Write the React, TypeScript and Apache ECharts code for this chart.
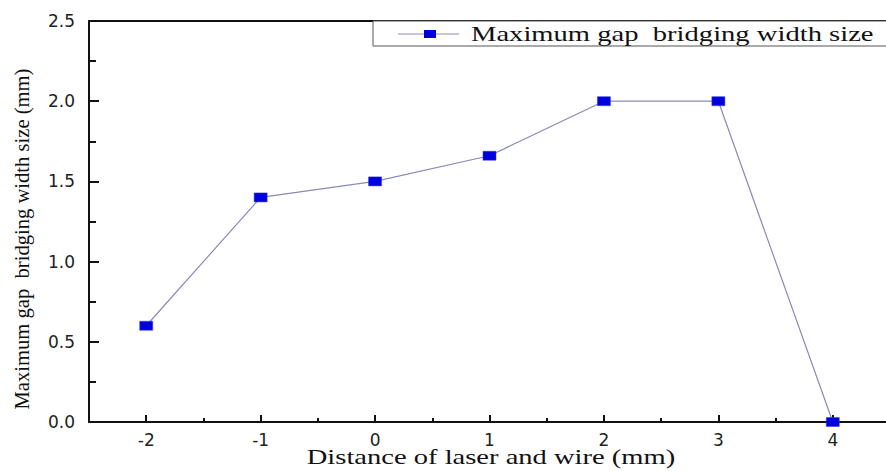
import React, { useEffect, useRef } from "react";
import * as echarts from "echarts";

const xValues = [-2, -1, 0, 1, 2, 3, 4];
const yValues = [0.6, 1.4, 1.5, 1.66, 2.0, 2.0, 0.0];
const seriesName = "Maximum gap  bridging width size";
const xTitle = "Distance of laser and wire (mm)";
const yTitle = "Maximum gap  bridging width size (mm)";

export default function App() {
  const ref = useRef<HTMLDivElement>(null);
  useEffect(() => {
    document.body.style.margin = "0";
    document.body.style.overflow = "hidden";
    const chart = echarts.init(ref.current!, null, { renderer: "svg" });
    const serif = "'Liberation Serif', 'Times New Roman', serif";
    const sans = "'DejaVu Sans', Arial, sans-serif";
    const lineColor = "#8a8ab8";
    const markColor = "#0000dd";
    chart.setOption({
      animation: false,
      backgroundColor: "#ffffff",
      grid: {
        left: 89,
        top: 21,
        width: 801,
        height: 401,
        show: false,
        outerBoundsMode: "none",
        containLabel: false,
      },
      xAxis: [
        {
          type: "value",
          min: -2.5,
          max: 4.5,
          axisLine: { onZero: false, lineStyle: { color: "#111", width: 2 } },
          axisTick: { inside: true, length: 7, lineStyle: { color: "#111", width: 2 } },
          minorTick: { show: true, splitNumber: 2, length: 4, lineStyle: { color: "#111", width: 2 } },
          splitLine: { show: false },
          axisLabel: {
            showMinLabel: false,
            showMaxLabel: false,
            margin: 9,
            fontFamily: sans,
            fontSize: 17,
            color: "#222",
            formatter: (v: number) => (Number.isInteger(v) ? String(v) : ""),
          },
        },
        {
          type: "value",
          position: "top",
          min: -2.5,
          max: 4.5,
          axisLine: { show: true, onZero: false, lineStyle: { color: "#111", width: 2 } },
          axisTick: { show: false },
          minorTick: { show: false },
          axisLabel: { show: false },
          splitLine: { show: false },
        },
      ],
      yAxis: {
        type: "value",
        min: 0,
        max: 2.5,
        interval: 0.5,
        axisLine: { show: true, onZero: false, lineStyle: { color: "#111", width: 2 } },
        axisTick: { show: true, inside: true, length: 10, lineStyle: { color: "#111", width: 2 } },
        minorTick: { show: true, splitNumber: 2, length: 7, lineStyle: { color: "#111", width: 2 } },
        splitLine: { show: false },
        axisLabel: {
          margin: 14,
          fontFamily: sans,
          fontSize: 17,
          color: "#222",
          formatter: (v: number) => v.toFixed(1),
        },
      },
      graphic: [
        {
          type: "rect",
          shape: { x: 878, y: 48, width: 20, height: 372 },
          style: { fill: "#fff" },
          z: 20,
        },
        {
          type: "rect",
          shape: { x: 373, y: 21, width: 540, height: 25 },
          style: { fill: "#fff", stroke: "#555", lineWidth: 1 },
          z: 10,
        },
        {
          type: "line",
          shape: { x1: 398, y1: 34, x2: 459, y2: 34 },
          style: { stroke: lineColor, lineWidth: 1.2 },
          z: 11,
        },
        {
          type: "rect",
          shape: { x: 424, y: 30, width: 12, height: 8 },
          style: { fill: markColor },
          z: 12,
        },
        {
          type: "text",
          x: 471,
          y: 34,
          scaleX: 1.3,
          z: 12,
          style: {
            text: seriesName,
            fontFamily: serif,
            fontSize: 22,
            fill: "#111",
            textAlign: "left",
            textVerticalAlign: "middle",
          },
        },
        {
          type: "text",
          x: 491,
          y: 457,
          scaleX: 1.36,
          style: {
            text: xTitle,
            fontFamily: serif,
            fontSize: 21,
            fill: "#111",
            textAlign: "center",
            textVerticalAlign: "middle",
          },
        },
        {
          type: "text",
          x: 22,
          y: 239,
          rotation: Math.PI / 2,
          scaleX: 1.03,
          style: {
            text: yTitle,
            fontFamily: serif,
            fontSize: 20,
            fill: "#111",
            textAlign: "center",
            textVerticalAlign: "middle",
          },
        },
      ],
      series: [
        {
          name: seriesName,
          type: "line",
          xAxisIndex: 0,
          data: xValues.map((x, i) => [x, yValues[i]]),
          symbol: "rect",
          symbolSize: [13, 9],
          showAllSymbol: true,
          clip: true,
          itemStyle: { color: markColor, borderColor: "#3333ee", borderWidth: 0.5 },
          lineStyle: { color: lineColor, width: 1.2 },
          z: 1,
        },
      ],
    });
    return () => chart.dispose();
  }, []);
  return (
    <div
      ref={ref}
      style={{ position: "fixed", left: 0, top: 0, width: 920, height: 471 }}
    />
  );
}
